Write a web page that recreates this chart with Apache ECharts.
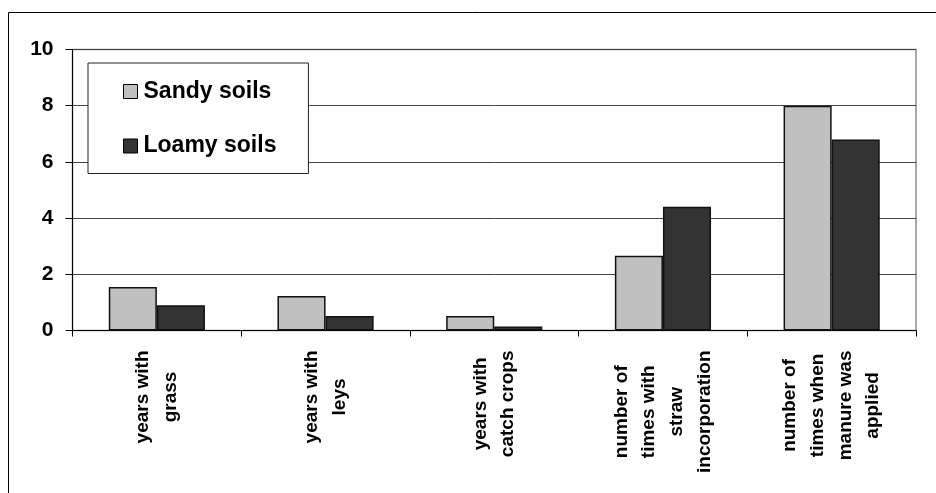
<!DOCTYPE html>
<html>
<head>
<meta charset="utf-8">
<script src="https://cdn.jsdelivr.net/npm/echarts@6/dist/echarts.min.js"></script>
<style>
  html, body { margin: 0; padding: 0; background: #ffffff; }
  #chart { width: 936px; height: 493px; }
</style>
</head>
<body>
<div id="chart"></div>
<script>
// Soil management history, sandy vs loamy soils
const categories = [
  'years with\ngrass',
  'years with\nleys',
  'years with\ncatch crops',
  'number of\ntimes with\nstraw\nincorporation',
  'number of\ntimes when\nmanure was\napplied'
];
const sandySoils = [1.55, 1.23, 0.52, 2.66, 8.0];
const loamySoils = [0.9, 0.52, 0.14, 4.4, 6.8];
const seriesNames = ['Sandy soils', 'Loamy soils'];

const FONT = '"Liberation Sans", Arial, sans-serif';
const LABEL_FONT = 'bold 19px ' + FONT;
const LABEL_LINE_HEIGHT = 27.6;
const LABEL_GAP = 20; // distance from the axis line to the end of the rotated text

// Category labels: rotated 90 degrees, lines centred on each other and the
// whole block starting just below the axis.
const measureCtx = document.createElement('canvas').getContext('2d');
measureCtx.font = LABEL_FONT;
const labelLength = categories.map(function (cat) {
  return Math.max.apply(null, cat.split('\n').map(function (l) {
    return measureCtx.measureText(l).width;
  }));
});

function renderCategoryLabel(params, api) {
  const i = api.value(0);
  const p = api.coord([i, 0]);
  return {
    type: 'text',
    x: p[0],
    y: p[1] + LABEL_GAP + labelLength[i] / 2,
    rotation: Math.PI / 2,
    style: {
      text: categories[i],
      font: LABEL_FONT,
      fill: '#000',
      align: 'center',
      verticalAlign: 'middle',
      lineHeight: LABEL_LINE_HEIGHT
    }
  };
}

const chart = echarts.init(document.getElementById('chart'), null, { renderer: 'canvas' });

chart.setOption({
  backgroundColor: '#ffffff',
  animation: false,
  graphic: [
    // outer chart frame (top and left edges)
    { type: 'line', shape: { x1: 8.5, y1: 12.5, x2: 936, y2: 12.5 }, style: { stroke: '#000', lineWidth: 1 } },
    { type: 'line', shape: { x1: 8.5, y1: 12.5, x2: 8.5, y2: 493 }, style: { stroke: '#000', lineWidth: 1 } }
  ],
  grid: {
    left: 72.5, top: 49.5, right: 20, bottom: 162.5,
    show: true, borderColor: '#8c8c8c', borderWidth: 1.5, backgroundColor: 'transparent'
  },
  legend: {
    data: seriesNames,
    orient: 'vertical',
    left: 88, top: 63,
    padding: [17, 32, 16, 35],
    itemGap: 31.5,
    itemWidth: 14, itemHeight: 14,
    icon: 'rect',
    borderColor: '#222', borderWidth: 1,
    backgroundColor: '#fff',
    itemStyle: { borderColor: '#000', borderWidth: 1 },
    textStyle: { fontFamily: FONT, fontSize: 23, fontWeight: 'bold', color: '#000', padding: [0, 0, 0, 1] }
  },
  xAxis: {
    type: 'category',
    data: categories,
    axisLine: { lineStyle: { color: '#000', width: 1 } },
    axisTick: { show: true, length: 6, lineStyle: { color: '#000' } },
    axisLabel: { show: false }
  },
  yAxis: {
    type: 'value',
    min: 0, max: 10, interval: 2,
    axisLine: { show: true, lineStyle: { color: '#000', width: 1 } },
    axisTick: { show: true, length: 7, lineStyle: { color: '#000' } },
    axisLabel: { margin: 19, fontFamily: FONT, fontSize: 21, fontWeight: 'bold', color: '#000' },
    splitLine: { show: true, lineStyle: { color: '#444', width: 1 } }
  },
  series: [
    {
      name: seriesNames[0], type: 'bar', data: sandySoils,
      barGap: '0%', barCategoryGap: '43%',
      itemStyle: { color: '#c0c0c0', borderColor: '#111', borderWidth: 1.5 }
    },
    {
      name: seriesNames[1], type: 'bar', data: loamySoils,
      barGap: '0%', barCategoryGap: '43%',
      itemStyle: { color: '#333333', borderColor: '#111', borderWidth: 1.5 }
    },
    {
      name: 'category labels', type: 'custom',
      data: categories.map(function (c, i) { return [i]; }),
      encode: { x: 0 },
      clip: false,
      silent: true,
      renderItem: renderCategoryLabel
    }
  ]
});
</script>
</body>
</html>
